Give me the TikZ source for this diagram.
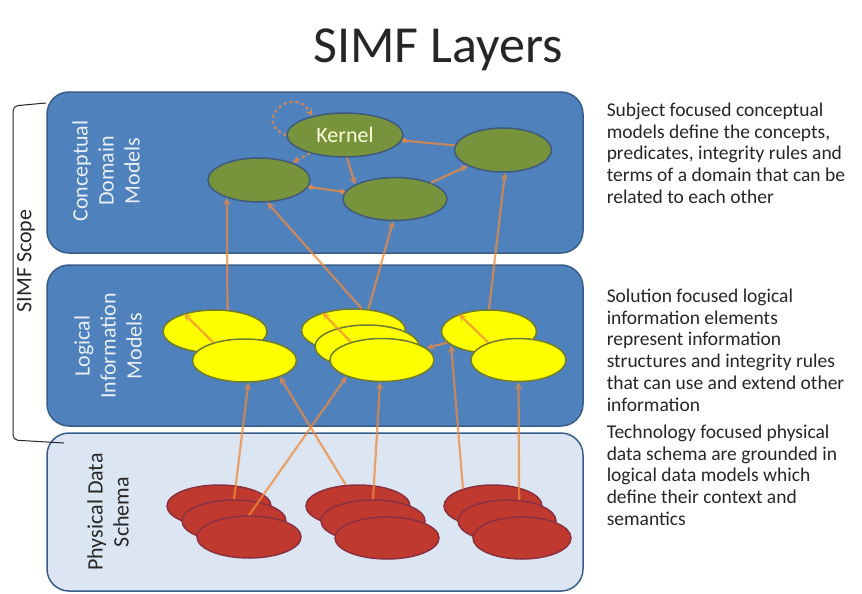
\documentclass[tikz,border=0pt]{standalone}
\usepackage{fontspec}
\setmainfont{Carlito}
\usetikzlibrary{shapes.geometric,arrows.meta}
\definecolor{layerblue}{HTML}{4F81BD}
\definecolor{layeredge}{HTML}{385D8A}
\definecolor{physblue}{HTML}{DCE6F2}
\definecolor{conceptgreen}{HTML}{77933C}
\definecolor{conceptedge}{HTML}{3F5A7A}
\definecolor{logicyellow}{HTML}{FFFF00}
\definecolor{logicedge}{HTML}{6E7B2E}
\definecolor{physred}{HTML}{C0392F}
\definecolor{physedge}{HTML}{8A3040}
\definecolor{linkorange}{HTML}{F08A3C}
\definecolor{inktext}{HTML}{262626}

\begin{document}
\begin{tikzpicture} [x=1pt, y=-1pt, ->, >=stealth, line width=1.5pt,
  layer/.style={draw=layeredge, rounded corners=22pt, minimum width=536pt, minimum height=161pt, inner sep=0pt},
  layerlabel/.style={align=center, font=\fontsize{22}{26}\selectfont, text=white!88!layerblue},
  concept/.style={ellipse, draw=conceptedge, fill=conceptgreen, inner sep=0pt, minimum height=44pt},
  logic/.style={ellipse, draw=logicedge, fill=logicyellow, inner sep=0pt, minimum width=104pt, minimum height=43pt},
  phys/.style={ellipse, draw=physedge, fill=physred, inner sep=0pt, minimum width=104pt, minimum height=42pt},
  note/.style={anchor=north west, align=left, inner sep=0pt, text=inktext, font=\fontsize{19.5}{21.8}\selectfont},
  link/.style={draw=linkorange, opacity=0.75, line width=2.2pt}]

\useasboundingbox (0,0) rectangle (862,594);

\node at (438,50) [text=inktext, font=\fontsize{52}{62}\selectfont] (title) {SIMF Layers};

\node at (315,172.5) [layer, fill=layerblue] (cdm) {};
\node at (315,345.5) [layer, fill=layerblue] (lim) {};
\node at (315,512) [layer, fill=physblue, minimum height=158pt] (pds) {};

\draw [-, line width=1pt, draw=inktext, rounded corners=5pt] (46,103) -- (13,106) -- (13,440) -- (64,443);
\node at (26,261) [rotate=90, text=inktext, font=\fontsize{22}{26}\selectfont] (scope) {SIMF Scope};

\node at (106,171) [layerlabel, rotate=90] (cdmlabel) {Conceptual\\Domain\\Models};
\node at (108,346) [layerlabel, rotate=90] (limlabel) {Logical\\Information\\Models};
\node at (108,512) [layerlabel, rotate=90, text=inktext] (pdslabel) {Physical Data\\Schema};

\node at (345,135) [concept, minimum width=116pt, text=white!85!yellow, font=\fontsize{22}{26}\selectfont] (kernel) {Kernel};
\node at (259,180) [concept, minimum width=102pt] (g1) {};
\node at (395,199) [concept, minimum width=104pt, minimum height=43pt] (g2) {};
\node at (503,150) [concept, minimum width=97pt] (g3) {};

\node at (215,331.5) [logic] (y1b) {};
\node at (244.5,360.5) [logic] (y1f) {};
\node at (353.5,330.5) [logic] (y2b) {};
\node at (367,346.5) [logic] (y2m) {};
\node at (382,360) [logic] (y2f) {};
\node at (489,331.5) [logic, minimum width=95pt] (y3b) {};
\node at (518.5,360) [logic, minimum width=95pt] (y3f) {};

\node at (219,506) [phys] (r1b) {};
\node at (234,521) [phys] (r1m) {};
\node at (249,537) [phys] (r1f) {};
\node at (358,506) [phys] (r2b) {};
\node at (373,521) [phys] (r2m) {};
\node at (387,538) [phys] (r2f) {};
\node at (493,506) [phys, minimum width=98pt] (r3b) {};
\node at (507,521) [phys, minimum width=98pt] (r3m) {};
\node at (522,538) [phys, minimum width=98pt] (r3f) {};

\path (kernel.180) edge [link, dashed, out=160, in=120, looseness=3] (kernel.150);
\path (kernel) edge [link, dashed] (g1);
\path (kernel.-85) edge [link] (g2.160);
\path (g3) edge [link, -{Circle[length=5pt]}] (kernel);
\path (g1) edge [link, {Circle[length=5pt]}-{Circle[length=5pt]}] (g2);
\path (g2) edge [link] (g3);

\path (y1b.60) edge [link] (g1.209);
\path (y2b.70) edge [link] (g1.-70);
\path (y2b.55) edge [link] (g2.-95);
\path (y3b.north) edge [link] (g3.-85);

\path (y1f.150) edge [link] (y1b.150);
\path (y2f.150) edge [link] (y2b.150);
\path (y3f.150) edge [link] (y3b.150);
\path (y3b) edge [link] (y2f);

\path (r1m.north) edge [link] (y1f.-80);
\path (r1f.north) edge [link] (y2f.205);
\path (r2b.120) edge [link] (y1f.-25);
\path (r2m.north) edge [link] (y2f.-95);
\path (r3b.150) edge [link] (y3b.200);
\path (r3m.60) edge [link] (y3f.south);

\node at (606,102) [note] (cdmnote) {Subject focused conceptual\\models define the concepts,\\predicates, integrity rules and\\terms of a domain that can be\\related to each other};
\node at (606,288) [note] (limnote) {Solution focused logical\\information elements\\represent information\\structures and integrity rules\\that can use and extend other\\information};
\node at (606,424) [note] (pdsnote) {Technology focused physical\\data schema are grounded in\\logical data models which\\define their context and\\semantics};

\end{tikzpicture}
\end{document}
